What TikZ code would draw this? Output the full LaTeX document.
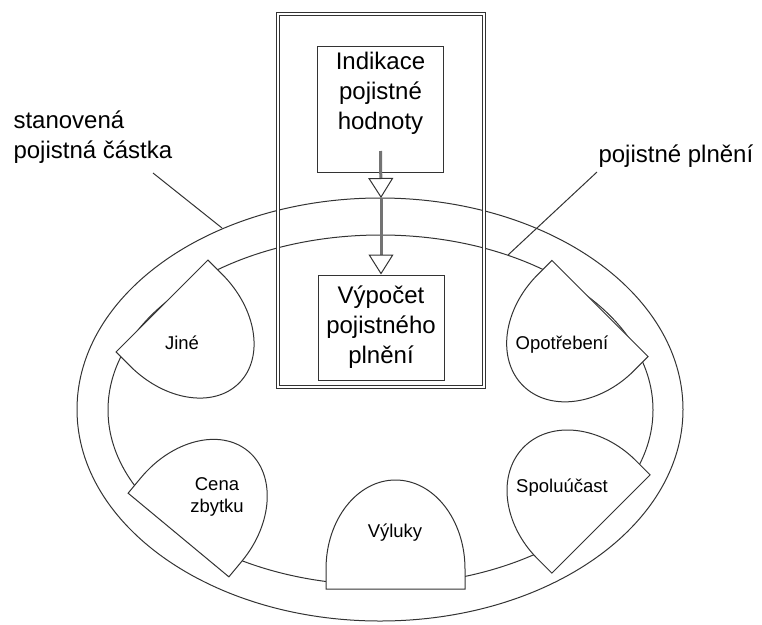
\documentclass[tikz,border=0pt]{standalone}
\usepackage{fontspec}
\setmainfont{Liberation Sans}
\usetikzlibrary{arrows.meta}

\tikzset{
    box/.style={draw, fill=white, minimum width=126pt, inner sep=0pt},
    bigtext/.style={font=\fontsize{24}{30}\selectfont, align=center, inner sep=0pt},
    smalltext/.style={font=\fontsize{18.5}{22}\selectfont, align=center, inner sep=0pt},
    drop/.style={draw, fill=white},
    flow/.style={draw=black!55, line width=3pt, -{Triangle[open, length=20pt, width=25pt, line width=1pt, color=black!80]}}
}

\begin{document}
\begin{tikzpicture}[x=1pt, y=-1pt, line width=1pt, draw=black!80]
    \useasboundingbox (0,0) rectangle (762,624);

    \draw (380,409.5) ellipse [x radius=303, y radius=211.5];
    \draw (380.5,410) ellipse [x radius=272.5, y radius=175];

    \node[draw, double, double distance=2pt, minimum width=206pt, minimum height=373pt, inner sep=0pt] (frame) at (381,200.5) {};

    % drops round the ring
    \foreach \mx/\my/\ang/\hw in {162/306/-135/65, 178.5/535/-39.7/65.5, 395.5/589/0/69.5, 601/524/45/69.5, 600/308.5/135/68}
        \draw[drop, shift={(\mx,\my)}, rotate=\ang] (-\hw,0) -- (-\hw,-20) arc[start angle=180, end angle=360, x radius=\hw, y radius=89] -- (\hw,0) -- cycle;

    \node[smalltext] (jine) at (182,343) {Jiné};
    \node[smalltext] (opotr) at (562,345) {Opotřebení};
    \node[smalltext] (zbytek) at (217,497) {Cena\\zbytku};
    \node[smalltext] (vyluky) at (395,533) {Výluky};
    \node[smalltext] (spolu) at (562,488) {Spoluúčast};

    \node[box, minimum height=126pt, anchor=north] (ind) at (380.5,46) {};
    \node[bigtext, anchor=north] (indt) at ([yshift=-5.5pt]ind.north) {Indikace\\pojistné\\hodnoty};
    \node[box, bigtext, minimum height=105pt] (vyp) at (381,327.5) {Výpočet\\pojistného\\plnění};

    \coordinate (src) at ([yshift=22pt]ind.south);
    \coordinate (tip) at (381,198);
    \draw[flow] (src) -- (tip);
    \draw[flow] (tip) -- (vyp.north);

    \node[bigtext, align=left, anchor=north west] (castka) at (13,110) {stanovená\\pojistná částka};
    \node[bigtext, anchor=north west] (plneni) at (598,144) {pojistné plnění};

    \coordinate (castkafoot) at (153,173);
    \coordinate (outerhit) at (222,228);
    \coordinate (plnenifoot) at (597,172);
    \coordinate (innerhit) at (508,255);
    \draw (castkafoot) -- (outerhit);
    \draw (plnenifoot) -- (innerhit);
\end{tikzpicture}
\end{document}
